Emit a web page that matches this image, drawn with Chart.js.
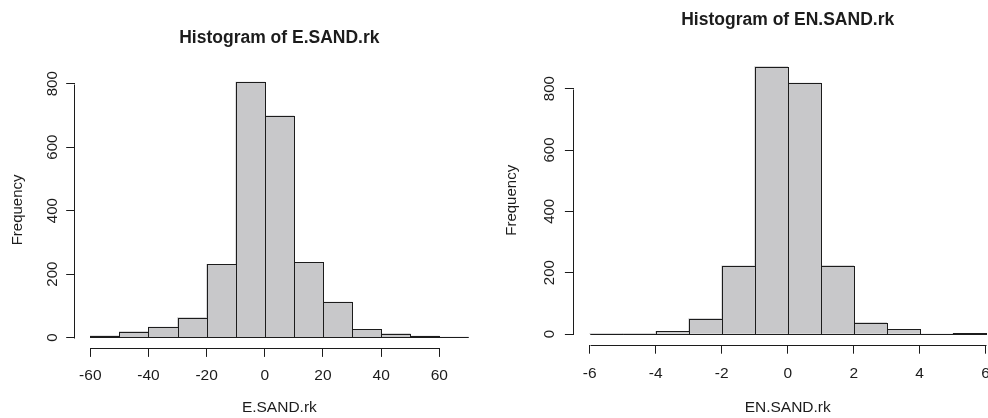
<!DOCTYPE html>
<html>
<head>
<meta charset="utf-8">
<script src="https://cdn.jsdelivr.net/npm/chart.js@4.4.1/dist/chart.umd.min.js"></script>
<style>
html,body{margin:0;padding:0;background:#fff;width:988px;height:418px;overflow:hidden}
#wrap{position:relative;width:988px;height:418px;overflow:hidden;background:#fff}
#c1{position:absolute;left:0;top:0}
#c2{position:absolute;left:494px;top:0}
</style>
</head>
<body>
<div id="wrap">
<canvas id="c1" width="494" height="418"></canvas>
<canvas id="c2" width="530" height="418"></canvas>
</div>
<script>
// ---- data ----
const eTitle = "Histogram of E.SAND.rk";
const eXLabel = "E.SAND.rk";
const eBreaks = [-60, -50, -40, -30, -20, -10, 0, 10, 20, 30, 40, 50, 60, 70];
const eCounts = [6, 19, 33, 63, 231, 805, 699, 237, 112, 26, 13, 5, 2];
const eXTicks = [-60, -40, -20, 0, 20, 40, 60];

const enTitle = "Histogram of EN.SAND.rk";
const enXLabel = "EN.SAND.rk";
const enBreaks = [-6, -5, -4, -3, -2, -1, 0, 1, 2, 3, 4, 5, 6];
const enCounts = [1, 1, 9, 50, 222, 872, 818, 223, 37, 15, 0, 2];
const enXTicks = [-6, -4, -2, 0, 2, 4, 6];

const yTicks = [0, 200, 400, 600, 800];
const yLabel = "Frequency";

// ---- styling ----
const INK = '#1c1c1c';
const BAR_FILL = '#c8c8ca';
Chart.defaults.font.family = "'Liberation Sans', Arial, Helvetica, sans-serif";
Chart.defaults.color = INK;

// R-style: axis lines only between first and last tick, bar outlines 1px
const rStyle = {
  id: 'rStyle',
  afterDatasetsDraw(chart) {
    const ctx = chart.ctx;
    ctx.save();
    ctx.strokeStyle = INK;
    ctx.lineWidth = 1;
    const meta = chart.getDatasetMeta(0);
    meta.data.forEach(el => {
      const p = el.getProps(['x', 'y', 'base', 'width'], true);
      const l = Math.round(p.x - p.width / 2), r = Math.round(p.x + p.width / 2);
      const t = Math.round(Math.min(p.y, p.base)), b = Math.round(Math.max(p.y, p.base));
      ctx.strokeRect(l + 0.5, t + 0.5, r - l, b - t);
    });
    ctx.restore();
  },
  afterDraw(chart) {
    const ctx = chart.ctx;
    const xs = chart.scales.x, ys = chart.scales.y;
    ctx.save();
    ctx.strokeStyle = INK;
    ctx.lineWidth = 1;
    const xt = chart.options.plugins.rStyle.xTicks;
    const yt = chart.options.plugins.rStyle.yTicks;
    const yAx = Math.round(xs.top) + 0.5;
    ctx.beginPath();
    ctx.moveTo(Math.round(xs.getPixelForValue(xt[0])) + 0.5, yAx);
    ctx.lineTo(Math.round(xs.getPixelForValue(xt[xt.length - 1])) + 0.5, yAx);
    const xAx = Math.round(ys.right) - 0.5;
    ctx.moveTo(xAx, Math.round(ys.getPixelForValue(yt[0])) + 0.5);
    ctx.lineTo(xAx, Math.round(ys.getPixelForValue(yt[yt.length - 1])) + 0.5);
    ctx.stroke();
    ctx.restore();
  }
};

function makeHist(canvas, title, xLabel, breaks, counts, xTicks, g) {
  const data = counts.map((c, i) => ({ x: (breaks[i] + breaks[i + 1]) / 2, y: c }));
  const b0 = breaks[0], bN = breaks[breaks.length - 1];
  const xr = bN - b0;
  const ymax = Math.max(...counts);
  return new Chart(canvas, {
    type: 'bar',
    data: { datasets: [{ data, backgroundColor: BAR_FILL, borderWidth: 0,
      barPercentage: 1, categoryPercentage: 1 }] },
    options: {
      responsive: false, animation: false,
      layout: { padding: { left: 0, top: 0, bottom: 0, right: g.padRight } },
      plugins: {
        legend: { display: false },
        tooltip: { enabled: false },
        title: { display: true, text: title, fullSize: false, color: INK,
          font: { size: 17.5, weight: 'bold' }, padding: { top: g.titleTop, bottom: g.titleBottom } },
        rStyle: { xTicks, yTicks }
      },
      scales: {
        x: {
          type: 'linear', offset: false, min: b0 - 0.04 * xr, max: bN + 0.04 * xr,
          afterBuildTicks: s => { s.ticks = xTicks.map(v => ({ value: v })); },
          afterFit: s => { s.height = g.xHeight; },
          border: { display: false },
          grid: { offset: false, drawOnChartArea: false, drawTicks: true, tickLength: 9, color: INK, lineWidth: 1 },
          ticks: { autoSkip: false, maxRotation: 0, minRotation: 0, padding: g.xTickPad,
            font: { size: 15.5 }, color: INK, callback: v => String(v) },
          title: { display: true, text: xLabel, color: INK, font: { size: 15.5 }, padding: { top: 0, bottom: g.xTitleBottom } }
        },
        y: {
          type: 'linear', min: -0.04 * ymax, max: 1.04 * ymax,
          afterBuildTicks: s => { s.ticks = yTicks.map(v => ({ value: v })); },
          afterFit: s => { s.width = g.yWidth; },
          border: { display: false },
          grid: { drawOnChartArea: false, drawTicks: true, tickLength: 9, color: INK, lineWidth: 1 },
          ticks: { autoSkip: false, minRotation: 90, maxRotation: 90, crossAlign: 'center', padding: g.yTickPad,
            font: { size: 15 }, color: INK, callback: v => String(v) },
          title: { display: true, text: yLabel, color: INK, font: { size: 15 }, padding: { top: 9.3, bottom: 0 } }
        }
      }
    },
    plugins: [rStyle]
  });
}

makeHist(document.getElementById('c1'), eTitle, eXLabel, eBreaks, eCounts, eXTicks,
  { padRight: 10.5, titleTop: 27.8, titleBottom: 23.1, xHeight: 70.1, yWidth: 75.2,
    xTickPad: 9.6, yTickPad: 0.5, xTitleBottom: 0.5 });
makeHist(document.getElementById('c2'), enTitle, enXLabel, enBreaks, enCounts, enXTicks,
  { padRight: 22.5, titleTop: 9.5, titleBottom: 25.4, xHeight: 73.3, yWidth: 79.9,
    xTickPad: 10.3, yTickPad: 3, xTitleBottom: 1 });
</script>
</body>
</html>
